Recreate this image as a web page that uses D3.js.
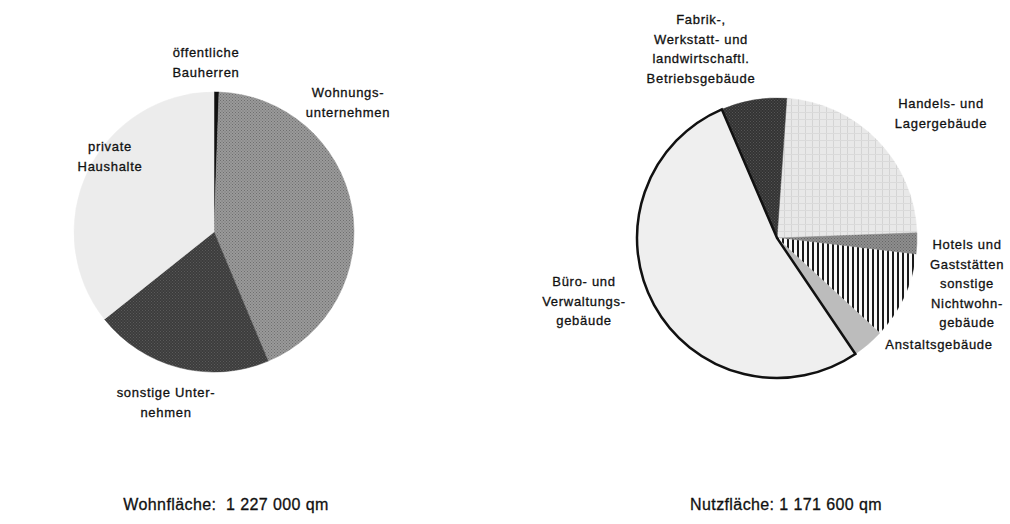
<!DOCTYPE html>
<html>
<head>
<meta charset="utf-8">
<script src="https://cdn.jsdelivr.net/npm/d3@7"></script>
<style>
  body { margin: 0; background: #fff; }
  text { font-family: "Liberation Sans", Arial, sans-serif; fill: #111; stroke: #111; stroke-width: 0.3px; }
</style>
</head>
<body>
<div class="chart"></div>
<script>
var width = 1010, height = 524;

// Wohnfläche nach Bauherren (1000 qm), clockwise from 12 o'clock
var wohnCategories = ["öffentliche Bauherren", "Wohnungsunternehmen", "sonstige Unternehmen", "private Haushalte"];
var wohnValues = [7, 529, 253, 438];
var wohnTitle = "Wohnfläche:  1 227 000 qm";

// Nutzfläche nach Gebäudeart (1000 qm), clockwise
var nutzCategories = ["Handels- und Lagergebäude", "Hotels und Gaststätten", "sonstige Nichtwohngebäude", "Anstaltsgebäude", "Büro- und Verwaltungsgebäude", "Fabrik-, Werkstatt- und landwirtschaftl. Betriebsgebäude"];
var nutzValues = [273, 29, 117, 43, 621, 88.6];
var nutzTitle = "Nutzfläche: 1 171 600 qm";

var svg = d3.select(".chart").append("svg")
    .attr("width", width)
    .attr("height", height);

var defs = svg.append("defs");

// stipple pattern helper
function stipple(id, a, b) {
  var p = defs.append("pattern").attr("id", id)
      .attr("width", 3).attr("height", 3).attr("patternUnits", "userSpaceOnUse");
  p.append("rect").attr("width", 3).attr("height", 3).attr("fill", a);
  p.append("rect").attr("width", 1).attr("height", 1).attr("fill", b);
  p.append("rect").attr("x", 1.5).attr("y", 1.5).attr("width", 1).attr("height", 1).attr("fill", b);
}
stipple("wohnungs", "#9a9a9a", "#6e6e6e");
stipple("sonstU", "#3c3c3c", "#5a5a5a");
stipple("fabrik", "#333333", "#555555");
stipple("hotels", "#8e8e8e", "#666666");

var grid = defs.append("pattern").attr("id", "handels")
    .attr("width", 7).attr("height", 7).attr("patternUnits", "userSpaceOnUse");
grid.append("rect").attr("width", 7).attr("height", 7).attr("fill", "#e8e8e8");
grid.append("rect").attr("width", 1).attr("height", 7).attr("fill", "#d4d4d4");
grid.append("rect").attr("width", 7).attr("height", 1).attr("fill", "#dadada");

var stripes = defs.append("pattern").attr("id", "stripes")
    .attr("width", 5).attr("height", 5).attr("patternUnits", "userSpaceOnUse");
stripes.append("rect").attr("width", 5).attr("height", 5).attr("fill", "#fafafa");
stripes.append("rect").attr("width", 2).attr("height", 5).attr("fill", "#1a1a1a");

var wohnFills = ["#111", "url(#wohnungs)", "url(#sonstU)", "#ececec"];
var nutzFills = ["url(#handels)", "url(#hotels)", "url(#stripes)", "#bcbcbc", "#efefef", "url(#fabrik)"];

var radius = 140;
var arc = d3.arc().innerRadius(0).outerRadius(radius);

function drawPie(cx, cy, values, fills, start) {
  var pie = d3.pie().sort(null)
      .startAngle(start).endAngle(start + 2 * Math.PI);
  var g = svg.append("g").attr("transform", "translate(" + cx + "," + cy + ")");
  g.selectAll("path")
    .data(pie(values))
    .enter().append("path")
      .attr("d", arc)
      .attr("fill", function(d, i) { return fills[i]; })
      .attr("stroke", function(d, i) { return fills[i]; })
      .attr("stroke-width", 0.5);
  return { g: g, arcs: pie(values) };
}

var left = drawPie(214, 232, wohnValues, wohnFills, 0);
var right = drawPie(777, 238, nutzValues, nutzFills, 4 * Math.PI / 180);

// Büro slice is outlined in black
right.g.append("path")
    .attr("d", arc(right.arcs[4]))
    .attr("fill", "none")
    .attr("stroke", "#111")
    .attr("stroke-width", 2.5)
    .attr("stroke-linejoin", "miter");

// labels: [lines, x, y of first baseline]
var labels = [
  [["öffentliche", "Bauherren"], 206, 57],
  [["Wohnungs-", "unternehmen"], 348, 97],
  [["private", "Haushalte"], 110, 151],
  [["sonstige Unter-", "nehmen"], 166, 397],
  [["Fabrik-,", "Werkstatt- und", "landwirtschaftl.", "Betriebsgebäude"], 701, 24],
  [["Handels- und", "Lagergebäude"], 941, 108],
  [["Hotels und", "Gaststätten"], 967, 249],
  [["sonstige", "Nichtwohn-", "gebäude"], 967, 288],
  [["Anstaltsgebäude"], 939, 349],
  [["Büro- und", "Verwaltungs-", "gebäude"], 584, 286]
];

labels.forEach(function(l) {
  var t = svg.append("text")
      .attr("text-anchor", "middle")
      .attr("font-size", 13)
      .attr("letter-spacing", 0.7);
  l[0].forEach(function(s, i) {
    t.append("tspan").attr("x", l[1]).attr("y", l[2] + i * 19.5).text(s);
  });
});

svg.append("text").attr("x", 226).attr("y", 510)
    .attr("text-anchor", "middle").attr("font-size", 16).attr("letter-spacing", 0.4)
    .style("white-space", "pre").text(wohnTitle);
svg.append("text").attr("x", 786).attr("y", 510)
    .attr("text-anchor", "middle").attr("font-size", 16).attr("letter-spacing", 0.4)
    .text(nutzTitle);
</script>
</body>
</html>
